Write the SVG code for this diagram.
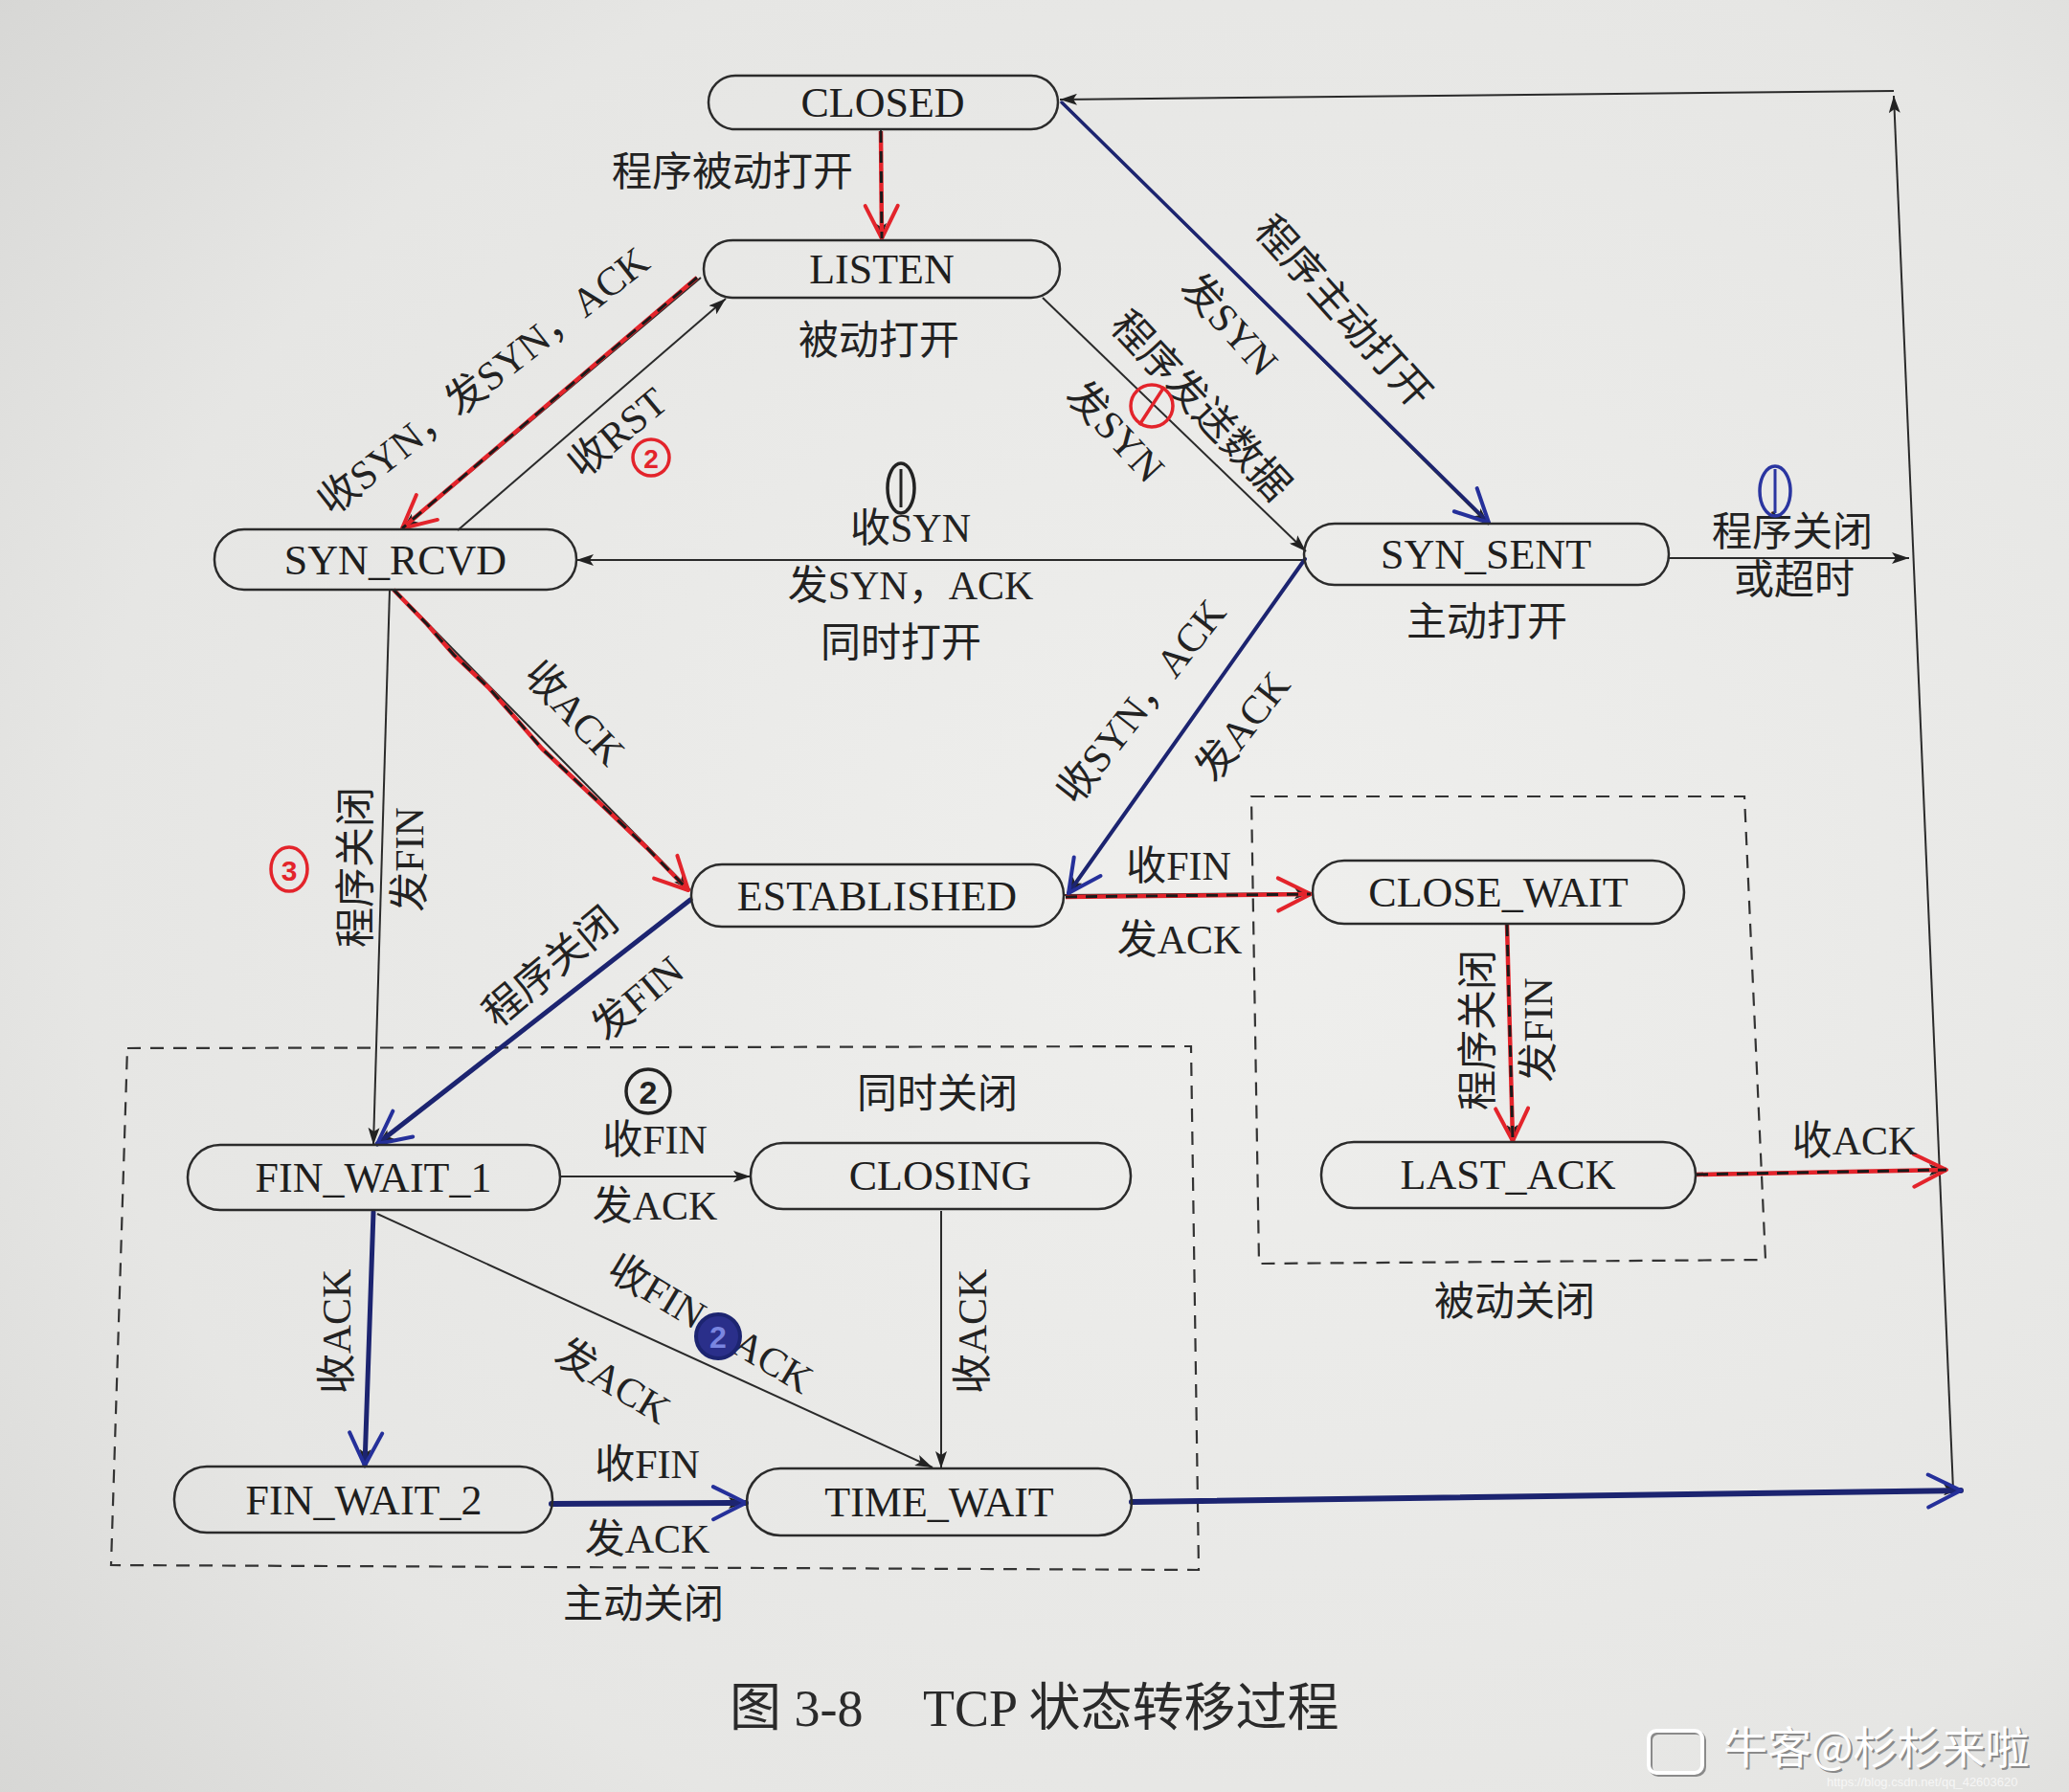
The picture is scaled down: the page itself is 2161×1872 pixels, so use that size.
<svg xmlns="http://www.w3.org/2000/svg" width="2161" height="1872" viewBox="0 0 2161 1872">
<defs>
<radialGradient id="paper" cx="0.6" cy="0.5" r="0.8">
<stop offset="0" stop-color="#efefed"/>
<stop offset="0.7" stop-color="#e6e6e4"/>
<stop offset="1" stop-color="#d6d6d4"/>
</radialGradient>
<marker id="ab" viewBox="0 0 18 12" refX="18" refY="6" markerWidth="18" markerHeight="12" markerUnits="userSpaceOnUse" orient="auto"><path d="M0,0 L18,6 L0,12 L4,6 z" fill="#222"/></marker>
<marker id="vr" viewBox="0 0 40 40" refX="37" refY="20" markerWidth="40" markerHeight="40" markerUnits="userSpaceOnUse" orient="auto" overflow="visible"><path d="M3,3 L37,20 L3,37" fill="none" stroke="#e3242b" stroke-width="4" stroke-linecap="round" stroke-linejoin="round"/></marker>
<marker id="vb" viewBox="0 0 40 40" refX="37" refY="20" markerWidth="40" markerHeight="40" markerUnits="userSpaceOnUse" orient="auto" overflow="visible"><path d="M3,3 L37,20 L3,37" fill="none" stroke="#25309a" stroke-width="4" stroke-linecap="round" stroke-linejoin="round"/></marker>
<style>
.nd rect{fill:none;stroke:#2b2b2b;stroke-width:2.5}
.nt{font-family:"Liberation Serif","Noto Sans CJK SC",serif;font-size:44px;fill:#1e1e1e;text-anchor:middle;dominant-baseline:central}
.lb{font-family:"Liberation Serif","Noto Sans CJK SC",serif;font-size:42px;fill:#222;text-anchor:middle;dominant-baseline:central}
.pl{stroke:#2a2a2a;stroke-width:2;fill:none;marker-end:url(#ab)}
.rd{stroke:#e3242b;stroke-width:4.5;fill:none;stroke-linejoin:round}
.rdk{stroke:#1a1a1a;stroke-width:3;stroke-dasharray:12 9;fill:none}
.bl{stroke:#1c2470;stroke-width:5;fill:none;stroke-linecap:round}
.box{fill:none;stroke:#333;stroke-width:2.2;stroke-dasharray:14 10}
.mk{fill:none;stroke-width:3.5}
.mt{font-family:"Liberation Sans",sans-serif;text-anchor:middle;dominant-baseline:central;font-weight:bold}
</style>
</defs>
<rect x="0" y="0" width="2161" height="1872" fill="url(#paper)"/>

<!-- dashed region boxes -->
<g id="regions">
<polygon class="box" points="133,1095 1244,1093 1252,1640 116,1635"/>
<polygon class="box" points="1307,832 1822,832 1844,1316 1315,1320"/>
<text class="lb" x="979" y="1143">同时关闭</text>
<text class="lb" x="672" y="1676">主动关闭</text>
<text class="lb" x="1582" y="1360">被动关闭</text>
</g>

<g id="connectors">
<!-- printed lines -->
<line class="pl" x1="920" y1="135" x2="920" y2="251"/>
<line class="pl" x1="732" y1="290" x2="420" y2="553"/>
<line class="pl" x1="478" y1="554" x2="758" y2="312"/>
<line class="pl" x1="1089" y1="311" x2="1364" y2="576"/>
<line class="pl" x1="1109" y1="107" x2="1555" y2="548"/>
<line class="pl" x1="1362" y1="585" x2="602" y2="585"/>
<line class="pl" x1="1363" y1="584" x2="1115" y2="934"/>
<line class="pl" x1="1743" y1="583" x2="1994" y2="583"/>
<line class="pl" x1="2040" y1="1556" x2="1978" y2="100"/>
<line class="pl" x1="1978" y1="95" x2="1107" y2="104"/>
<line class="pl" x1="412" y1="616" x2="721" y2="930"/>
<line class="pl" x1="407" y1="616" x2="390" y2="1196"/>
<line class="pl" x1="721" y1="940" x2="394" y2="1196"/>
<line class="pl" x1="1111" y1="935" x2="1370" y2="933"/>
<line class="pl" x1="1574" y1="965" x2="1580" y2="1193"/>
<line class="pl" x1="1771" y1="1226" x2="2033" y2="1222"/>
<line class="pl" x1="586" y1="1229" x2="784" y2="1229"/>
<line class="pl" x1="390" y1="1265" x2="381" y2="1532"/>
<line class="pl" x1="394" y1="1268" x2="974" y2="1533"/>
<line class="pl" x1="983" y1="1265" x2="983" y2="1534"/>
<line class="pl" x1="576" y1="1570" x2="779" y2="1570"/>
<line class="pl" x1="1182" y1="1568" x2="2048" y2="1556"/>

<!-- red hand-drawn overlays -->
<path class="rd" d="M920,137 L921,249" marker-end="url(#vr)"/>
<path class="rdk" d="M920,137 L921,249"/>
<path class="rd" d="M728,290 L420,552" marker-end="url(#vr)"/>
<path class="rdk" d="M728,290 L420,552"/>
<path class="rd" d="M411,616 L446,652 L474,684 L510,718 L540,752 L566,782 L600,814 L634,846 L676,886 L719,930" marker-end="url(#vr)"/>
<path class="rdk" d="M411,616 L446,652 L474,684 L510,718 L540,752 L566,782 L600,814 L634,846 L676,886 L719,930"/>
<path class="rd" d="M1113,937 L1369,934" marker-end="url(#vr)"/>
<path class="rdk" d="M1113,937 L1369,934"/>
<path class="rd" d="M1574,966 L1580,1192" marker-end="url(#vr)"/>
<path class="rdk" d="M1574,966 L1580,1192"/>
<path class="rd" d="M1772,1227 L2033,1222" marker-end="url(#vr)"/>
<path class="rdk" d="M1772,1227 L2033,1222"/>

<!-- blue hand-drawn overlays -->
<path class="bl" style="stroke-width:3.5" d="M1109,107 L1555,546" marker-end="url(#vb)"/>
<path class="bl" style="stroke-width:4" d="M1363,584 L1116,933" marker-end="url(#vb)"/>
<path class="bl" d="M721,940 L394,1195" marker-end="url(#vb)"/>
<path class="bl" d="M390,1266 L381,1531" marker-end="url(#vb)"/>
<path class="bl" style="stroke-width:6" d="M576,1571 L779,1570" marker-end="url(#vb)"/>
<path class="bl" style="stroke-width:6" d="M1182,1569 L2048,1557" marker-end="url(#vb)"/>
</g>

<g id="labels">
<text class="lb" x="765" y="180">程序被动打开</text>
<text class="lb" x="918" y="356">被动打开</text>
<text class="lb" transform="translate(505,398) rotate(-38)">收SYN，发SYN，ACK</text>
<text class="lb" transform="translate(645,452) rotate(-40)">收RST</text>
<text class="lb" transform="translate(1254,424) rotate(47)">程序发送数据</text>
<text class="lb" transform="translate(1165,451) rotate(47)">发SYN</text>
<text class="lb" transform="translate(1403,326) rotate(48)">程序主动打开</text>
<text class="lb" transform="translate(1284,339) rotate(48)">发SYN</text>
<text class="lb" x="951" y="552">收SYN</text>
<text class="lb" x="951" y="612">发SYN，ACK</text>
<text class="lb" x="941" y="672">同时打开</text>
<text class="lb" x="1872" y="556">程序关闭</text>
<text class="lb" x="1874" y="606">或超时</text>
<text class="lb" x="1553" y="650">主动打开</text>
<text class="lb" transform="translate(600,745) rotate(47)">收ACK</text>
<text class="lb" transform="translate(372,906) rotate(-90)">程序关闭</text>
<text class="lb" transform="translate(428,898) rotate(-90)">发FIN</text>
<text class="lb" transform="translate(575,1010) rotate(-40)">程序关闭</text>
<text class="lb" transform="translate(666,1043) rotate(-40)">发FIN</text>
<text class="lb" transform="translate(1192,733) rotate(-52)">收SYN，ACK</text>
<text class="lb" transform="translate(1298,759) rotate(-52)">发ACK</text>
<text class="lb" x="1231" y="905">收FIN</text>
<text class="lb" x="1232" y="982">发ACK</text>
<text class="lb" transform="translate(1544,1076) rotate(-90)">程序关闭</text>
<text class="lb" transform="translate(1607,1076) rotate(-90)">发FIN</text>
<text class="lb" x="1937" y="1192">收ACK</text>
<text class="lb" x="684" y="1191">收FIN</text>
<text class="lb" x="684" y="1260">发ACK</text>
<text class="lb" transform="translate(352,1391) rotate(-90)">收ACK</text>
<text class="lb" transform="translate(742,1383) rotate(31)">收FIN，ACK</text>
<text class="lb" transform="translate(640,1443) rotate(31)">发ACK</text>
<text class="lb" transform="translate(1016,1391) rotate(-90)">收ACK</text>
<text class="lb" x="676" y="1530">收FIN</text>
<text class="lb" x="676" y="1608">发ACK</text>
</g>

<g id="marks">
<ellipse class="mk" cx="941" cy="510" rx="14" ry="26" stroke="#222"/>
<line x1="941" y1="490" x2="941" y2="530" stroke="#222" stroke-width="3"/>
<ellipse class="mk" cx="1854" cy="513" rx="16" ry="26" stroke="#2a35a0"/>
<line x1="1854" y1="490" x2="1854" y2="536" stroke="#2a35a0" stroke-width="3"/>
<circle class="mk" cx="680" cy="478" r="19" stroke="#e3242b"/>
<text class="mt" x="680" y="479" font-size="28" fill="#e3242b">2</text>
<ellipse class="mk" cx="302" cy="908" rx="19" ry="23" stroke="#e3242b"/>
<text class="mt" x="302" y="909" font-size="30" fill="#e3242b">3</text>
<circle class="mk" cx="677" cy="1140" r="23" stroke="#222"/>
<text class="mt" x="677" y="1141" font-size="34" fill="#222">2</text>
<circle cx="750" cy="1396" r="23" fill="#2a2f8a" stroke="#1c2470" stroke-width="4"/>
<text class="mt" x="750" y="1397" font-size="32" fill="#7a86e0">2</text>
<circle class="mk" cx="1203" cy="424" r="22" stroke="#e3242b"/>
<line x1="1190" y1="444" x2="1216" y2="404" stroke="#e3242b" stroke-width="3.5"/>
</g>

<g id="n-closed" class="nd"><rect x="740" y="79" width="365" height="56" rx="28"/><text class="nt" x="922" y="107">CLOSED</text></g>
<g id="n-listen" class="nd"><rect x="735" y="251" width="372" height="60" rx="30"/><text class="nt" x="921" y="281">LISTEN</text></g>
<g id="n-syn-rcvd" class="nd"><rect x="224" y="553" width="378" height="63" rx="31"/><text class="nt" x="413" y="585">SYN_RCVD</text></g>
<g id="n-syn-sent" class="nd"><rect x="1362" y="547" width="381" height="64" rx="32"/><text class="nt" x="1552" y="579">SYN_SENT</text></g>
<g id="n-established" class="nd"><rect x="722" y="903" width="389" height="65" rx="32"/><text class="nt" x="916" y="936">ESTABLISHED</text></g>
<g id="n-close-wait" class="nd"><rect x="1371" y="899" width="388" height="66" rx="33"/><text class="nt" x="1565" y="932">CLOSE_WAIT</text></g>
<g id="n-fin-wait-1" class="nd"><rect x="196" y="1196" width="389" height="68" rx="34"/><text class="nt" x="390" y="1230">FIN_WAIT_1</text></g>
<g id="n-closing" class="nd"><rect x="784" y="1194" width="397" height="69" rx="34"/><text class="nt" x="982" y="1228">CLOSING</text></g>
<g id="n-last-ack" class="nd"><rect x="1380" y="1193" width="391" height="69" rx="34"/><text class="nt" x="1575" y="1227">LAST_ACK</text></g>
<g id="n-fin-wait-2" class="nd"><rect x="182" y="1532" width="395" height="69" rx="34"/><text class="nt" x="380" y="1567">FIN_WAIT_2</text></g>
<g id="n-time-wait" class="nd"><rect x="780" y="1534" width="402" height="70" rx="35"/><text class="nt" x="981" y="1569">TIME_WAIT</text></g>

<g id="caption">
<text x="762" y="1785" font-family="Liberation Serif, Noto Sans CJK SC, serif" font-size="54" fill="#2a2a2a" dominant-baseline="central">图 3-8</text>
<text x="964" y="1785" font-family="Liberation Serif, Noto Sans CJK SC, serif" font-size="54" fill="#2a2a2a" dominant-baseline="central">TCP 状态转移过程</text>
</g>

<g id="watermark">
<rect x="1722" y="1808" width="56" height="44" rx="8" fill="none" stroke="#8a8a8a" stroke-width="4" transform="translate(2,2)"/>
<rect x="1722" y="1808" width="56" height="44" rx="8" fill="none" stroke="#ffffff" stroke-width="4"/>
<text x="1800" y="1842" font-family="Noto Sans CJK SC, sans-serif" font-size="46" fill="#8a8a8a" transform="translate(2,2)">牛客@杉杉来啦</text>
<text x="1800" y="1842" font-family="Noto Sans CJK SC, sans-serif" font-size="46" fill="#ffffff">牛客@杉杉来啦</text>
<text x="1908" y="1866" font-family="Liberation Sans, sans-serif" font-size="13" fill="#ffffff" opacity="0.7">https://blog.csdn.net/qq_42603620</text>
</g>
</svg>
